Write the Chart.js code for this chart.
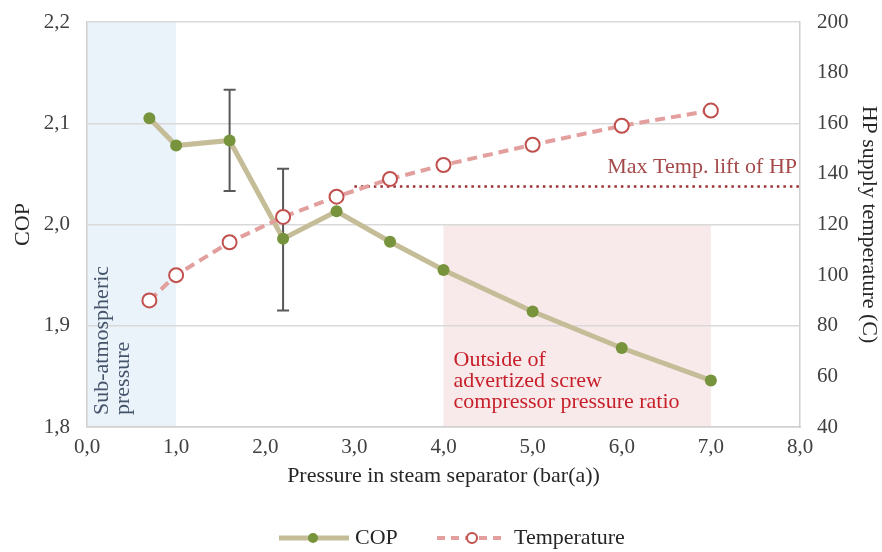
<!DOCTYPE html>
<html>
<head>
<meta charset="utf-8">
<script src="https://cdn.jsdelivr.net/npm/chart.js@4.4.0/dist/chart.umd.min.js"></script>
<style>
    html, body { margin: 0; padding: 0; background: #fff; }
</style>
</head>
<body>
<canvas id="grafico" width="882" height="552"></canvas>
<script>
// pressao no separador de vapor (bar(a))
const pressao = [0.7, 1.0, 1.6, 2.2, 2.8, 3.4, 4.0, 5.0, 6.0, 7.0];
const cop = [2.105, 2.078, 2.083, 1.986, 2.013, 1.983, 1.955, 1.914, 1.878, 1.846];
const temperatura = [90, 100, 113, 123, 131, 138, 143.5, 151.5, 159, 165];

// barras de erro do COP
const erroX = [1.6, 2.2];
const erroMin = [2.033, 1.915];
const erroMax = [2.133, 2.055];

// limite de elevacao de temperatura da bomba de calor
const limiteTemp = 135;
const limiteX = [3.0, 8.0];

// faixas sombreadas
const faixaSubAtm = [0.0, 1.0];
const faixaForaX = [4.0, 7.0];
const faixaForaCop = [1.8, 2.0];

const fonte = 'Liberation Serif';
let corCop = '#c4bd97';
let corPontoCop = '#77933c';
let corTemp = '#e39e9e';
let corPontoTemp = '#c0504d';
let corLimite = '#9b3033';

function virgula(v) {
    return v.toFixed(1).replace('.', ',');
}

// largura fixa dos eixos verticais, sem o espaco extra dos rotulos
function eixoFixo(largura) {
    return s => {
        s.width = largura;
        s.paddingTop = 0;
        s.paddingBottom = 0;
    };
}

const fundo = {
    id: 'fundo',
    beforeDraw(chart) {
        const c = chart.ctx;
        const x = chart.scales.x;
        const y = chart.scales.y;
        const area = chart.chartArea;
        c.save();
        c.fillStyle = '#eaf2fa';
        c.fillRect(x.getPixelForValue(faixaSubAtm[0]), area.top,
            x.getPixelForValue(faixaSubAtm[1]) - x.getPixelForValue(faixaSubAtm[0]), area.bottom - area.top);
        c.fillStyle = '#f8eaeb';
        c.fillRect(x.getPixelForValue(faixaForaX[0]), y.getPixelForValue(faixaForaCop[1]),
            x.getPixelForValue(faixaForaX[1]) - x.getPixelForValue(faixaForaX[0]),
            y.getPixelForValue(faixaForaCop[0]) - y.getPixelForValue(faixaForaCop[1]));
        c.restore();
    },
    beforeDatasetsDraw(chart) {
        const c = chart.ctx;
        const x = chart.scales.x;
        const y = chart.scales.y;
        c.save();
        c.strokeStyle = '#595959';
        c.lineWidth = 2;
        for (let i = 0; i < erroX.length; i++) {
            let px = x.getPixelForValue(erroX[i]);
            let y1 = y.getPixelForValue(erroMax[i]);
            let y2 = y.getPixelForValue(erroMin[i]);
            c.beginPath();
            c.moveTo(px, y1); c.lineTo(px, y2);
            c.moveTo(px - 6, y1); c.lineTo(px + 6, y1);
            c.moveTo(px - 6, y2); c.lineTo(px + 6, y2);
            c.stroke();
        }
        c.restore();
    },
    afterDatasetsDraw(chart) {
        const c = chart.ctx;
        const x = chart.scales.x;
        const y = chart.scales.y;
        const y2 = chart.scales.y2;
        const area = chart.chartArea;
        c.save();
        c.font = '22px "' + fonte + '"';
        c.textBaseline = 'alphabetic';

        c.fillStyle = '#a5494a';
        c.textAlign = 'right';
        c.fillText('Max Temp. lift of HP', x.getPixelForValue(limiteX[1]) - 3, y2.getPixelForValue(limiteTemp) - 14);

        c.fillStyle = '#c8202a';
        c.textAlign = 'left';
        let ox = x.getPixelForValue(faixaForaX[0]) + 10;
        let oy = y.getPixelForValue(faixaForaCop[0]);
        c.fillText('Outside of', ox, oy - 61);
        c.fillText('advertized screw', ox, oy - 40);
        c.fillText('compressor pressure ratio', ox, oy - 19);

        c.fillStyle = '#44546a';
        c.translate(x.getPixelForValue(faixaSubAtm[0]) + 21, area.bottom - 12);
        c.rotate(-Math.PI / 2);
        c.fillText('Sub-atmospheric', 0, 0);
        c.fillText('pressure', 0, 21);
        c.restore();
    },
    afterDraw(chart) {
        // legenda desenhada a mao: linha com marcador
        const c = chart.ctx;
        const ly = 538;
        c.save();
        c.lineCap = 'butt';
        c.strokeStyle = corCop;
        c.lineWidth = 5;
        c.beginPath(); c.moveTo(279, ly); c.lineTo(349, ly); c.stroke();
        c.fillStyle = corPontoCop;
        c.beginPath(); c.arc(313, ly, 5, 0, Math.PI * 2); c.fill();

        c.strokeStyle = corTemp;
        c.lineWidth = 4;
        c.setLineDash([8, 6]);
        c.beginPath(); c.moveTo(437, ly); c.lineTo(507, ly); c.stroke();
        c.setLineDash([]);
        c.fillStyle = '#fff';
        c.strokeStyle = corPontoTemp;
        c.lineWidth = 2;
        c.beginPath(); c.arc(472, ly, 5, 0, Math.PI * 2); c.fill(); c.stroke();

        c.fillStyle = '#262626';
        c.font = '22px "' + fonte + '"';
        c.textBaseline = 'middle';
        c.textAlign = 'left';
        c.fillText('COP', 355, ly);
        c.fillText('Temperature', 514, ly);
        c.restore();
    }
};

const ctx = document.getElementById('grafico').getContext('2d');
let myChart = new Chart(ctx, {
    type: 'line',
    data: {
        datasets: [{
            label: 'COP',
            data: pressao.map((p, i) => ({ x: p, y: cop[i] })),
            yAxisID: 'y',
            borderColor: corCop,
            borderWidth: 5,
            pointRadius: 6,
            pointBackgroundColor: corPontoCop,
            pointBorderWidth: 0,
            order: 1
        }, {
            label: 'Temperature',
            data: pressao.map((p, i) => ({ x: p, y: temperatura[i] })),
            yAxisID: 'y2',
            borderColor: corTemp,
            borderWidth: 4,
            borderDash: [10, 6],
            pointRadius: 7,
            pointBackgroundColor: '#fff',
            pointBorderColor: corPontoTemp,
            pointBorderWidth: 2,
            order: 0
        }, {
            label: 'Max Temp. lift of HP',
            data: limiteX.map(p => ({ x: p, y: limiteTemp })),
            yAxisID: 'y2',
            borderColor: corLimite,
            borderWidth: 2.5,
            borderDash: [2.5, 4],
            pointRadius: 0,
            order: 2
        }]
    },
    options: {
        responsive: false,
        animation: false,
        layout: { padding: { top: 22, left: 0, right: 0, bottom: 0 } },
        plugins: {
            legend: { display: false },
            tooltip: { enabled: false }
        },
        scales: {
            x: {
                type: 'linear',
                min: 0, max: 8,
                afterFit: s => { s.height = 125; },
                ticks: {
                    stepSize: 1,
                    padding: 8,
                    color: '#404040',
                    font: { family: fonte, size: 21 },
                    callback: v => virgula(v)
                },
                grid: { display: false, drawTicks: false },
                border: { display: true, color: '#d0d0d0', width: 1.5 },
                title: {
                    display: true,
                    text: 'Pressure in steam separator (bar(a))',
                    color: '#262626',
                    font: { family: fonte, size: 22 },
                    padding: { top: 0, bottom: 63 }
                }
            },
            y: {
                position: 'left',
                min: 1.8, max: 2.2,
                afterFit: eixoFixo(87),
                ticks: {
                    stepSize: 0.1,
                    padding: 17,
                    color: '#404040',
                    font: { family: fonte, size: 21 },
                    callback: v => virgula(v)
                },
                grid: { color: '#d9d9d9', lineWidth: 1.5, drawTicks: false },
                border: { display: true, color: '#d0d0d0', width: 1.5 },
                title: {
                    display: true,
                    text: 'COP',
                    color: '#262626',
                    font: { family: fonte, size: 22 },
                    padding: { top: 10, bottom: 0 }
                }
            },
            y2: {
                position: 'right',
                min: 40, max: 200,
                afterFit: eixoFixo(82),
                ticks: {
                    stepSize: 20,
                    padding: 17,
                    color: '#404040',
                    font: { family: fonte, size: 21 }
                },
                grid: { display: false, drawTicks: false },
                border: { display: true, color: '#d0d0d0', width: 1.5 },
                title: {
                    display: true,
                    text: 'HP supply temperature (C)',
                    color: '#262626',
                    font: { family: fonte, size: 22 },
                    padding: { top: 0, bottom: 0 }
                }
            }
        }
    },
    plugins: [fundo]
});
</script>
</body>
</html>
